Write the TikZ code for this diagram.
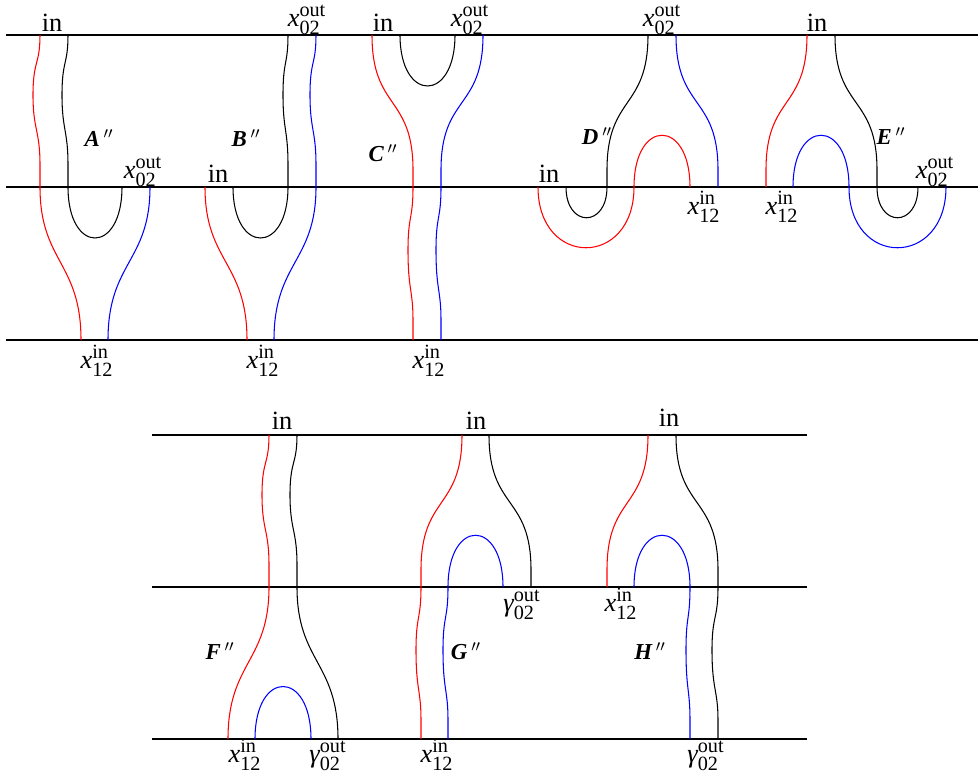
\documentclass[tikz,border=0pt]{standalone}
\usepackage{amsmath}
\usepackage{fontspec}
\setmainfont{Liberation Serif}
\usepackage{tikz}
\usetikzlibrary{positioning,calc}
\definecolor{strandred}{RGB}{255,0,0}
\definecolor{strandblue}{RGB}{0,0,255}
\DeclareMathSizes{15}{15}{11.5}{9}
\newcommand{\xin}{$\textit{x}^{\text{in}}_{\text{12}}$}
\newcommand{\xout}{$\textit{x}^{\text{out}}_{\text{02}}$}
\newcommand{\gout}{$\textit{γ}^{\text{out}}_{\text{02}}$}
\newcommand{\dprime}{\,$''$}
\tikzset{
  level/.style={line width=0.7pt},
  redstrand/.style={draw=strandred, line width=0.6pt},
  bluestrand/.style={draw=strandblue, line width=0.6pt},
  blackstrand/.style={draw=black, line width=0.6pt},
  lab/.style={font=\fontsize{15}{18}\selectfont, inner sep=0pt, anchor=base},
  tag/.style={font=\fontsize{13}{15}\selectfont\bfseries\itshape, inner sep=0pt}
}

\begin{document}
\begin{tikzpicture}[x=0.02cm, y=-0.02cm]
  \useasboundingbox (0,0) rectangle (978,778);

  \draw[level] (6,35) -- (978,35);
  \draw[level] (6,187) -- (978,187);
  \draw[level] (6,340) -- (978,340);
  \draw[level] (152,435) -- (807,435);
  \draw[level] (152,587) -- (807,587);
  \draw[level] (152,739) -- (807,739);

  \draw[redstrand] (40,35) .. controls (40,65) and (33,60) .. (33,95) .. controls (33,130) and (40,130) .. (40,165) -- (40,187) .. controls (40,262) and (81,262) .. (81,340);
  \draw[blackstrand] (68,35) .. controls (68,65) and (62,60) .. (62,95) .. controls (62,130) and (68,130) .. (68,165) -- (68,187) .. controls (68,255) and (122,255) .. (122,187);
  \draw[bluestrand] (150,187) .. controls (150,262) and (108,262) .. (108,340);
  \node[lab] (inA) at (52,31) {in};
  \node[lab] (xoutA) at (143,178) {\xout};
  \node[lab] (xinA) at (97,368) {\xin};
  \node[tag] (tagA) at (99,138) {A\dprime};

  \draw[redstrand] (205,187) .. controls (205,262) and (247,262) .. (247,340);
  \draw[blackstrand] (233,187) .. controls (233,255) and (288,255) .. (288,187) -- (288,165) .. controls (288,130) and (283,130) .. (283,95) .. controls (283,60) and (288,65) .. (288,35);
  \draw[bluestrand] (316,35) .. controls (316,65) and (310,60) .. (310,95) .. controls (310,130) and (316,130) .. (316,165) -- (316,187) .. controls (316,262) and (274,262) .. (274,340);
  \node[lab] (inB) at (218,182) {in};
  \node[lab] (xoutB) at (307,26) {\xout};
  \node[lab] (xinB) at (263,368) {\xin};
  \node[tag] (tagB) at (246,138) {B\dprime};

  \draw[redstrand] (372,35) .. controls (372,110) and (413,95) .. (413,170) -- (413,187) .. controls (413,220) and (408,215) .. (408,250) .. controls (408,290) and (413,290) .. (413,320) -- (413,340);
  \draw[blackstrand] (400,35) .. controls (400,103) and (455,103) .. (455,35);
  \draw[bluestrand] (483,35) .. controls (483,110) and (441,95) .. (441,170) -- (441,187) .. controls (441,220) and (436,215) .. (436,250) .. controls (436,290) and (441,290) .. (441,320) -- (441,340);
  \node[lab] (inC) at (383,31) {in};
  \node[lab] (xoutC) at (470,26) {\xout};
  \node[lab] (xinC) at (429,368) {\xin};
  \node[tag] (tagC) at (383,153) {C\dprime};

  \draw[blackstrand] (648,35) .. controls (648,110) and (607,95) .. (607,170) -- (607,187) .. controls (607,228) and (566,228) .. (566,187);
  \draw[redstrand] (538,187) .. controls (538,268) and (634,268) .. (634,187) .. controls (634,118) and (690,118) .. (690,187);
  \draw[bluestrand] (676,35) .. controls (676,110) and (718,95) .. (718,170) -- (718,187);
  \node[lab] (inD) at (549,182) {in};
  \node[lab] (xoutD) at (662,26) {\xout};
  \node[lab] (xinD) at (704,214) {\xin};
  \node[tag] (tagD) at (597,136) {D\dprime};

  \draw[redstrand] (807,35) .. controls (807,110) and (766,95) .. (766,170) -- (766,187);
  \draw[bluestrand] (793,187) .. controls (793,118) and (849,118) .. (849,187) .. controls (849,268) and (946,268) .. (946,187);
  \draw[blackstrand] (835,35) .. controls (835,110) and (877,95) .. (877,170) -- (877,187) .. controls (877,228) and (918,228) .. (918,187);
  \node[lab] (inE) at (817,31) {in};
  \node[lab] (xoutE) at (935,178) {\xout};
  \node[lab] (xinE) at (782,214) {\xin};
  \node[tag] (tagE) at (891,136) {E\dprime};

  \draw[redstrand] (269,435) .. controls (269,465) and (262,460) .. (262,495) .. controls (262,530) and (269,530) .. (269,565) -- (269,587) .. controls (269,662) and (228,662) .. (228,739);
  \draw[blackstrand] (297,435) .. controls (297,465) and (290,460) .. (290,495) .. controls (290,530) and (297,530) .. (297,565) -- (297,587) .. controls (297,662) and (338,662) .. (338,739);
  \draw[bluestrand] (255,739) .. controls (255,669) and (311,669) .. (311,739);
  \node[lab] (inF) at (282,429) {in};
  \node[lab] (xinF) at (245,762) {\xin};
  \node[lab] (goutF) at (328,762) {\gout};
  \node[tag] (tagF) at (220,651) {F\dprime};

  \draw[redstrand] (462,435) .. controls (462,510) and (421,495) .. (421,570) -- (421,587) .. controls (421,620) and (416,615) .. (416,650) .. controls (416,690) and (421,690) .. (421,720) -- (421,739);
  \draw[bluestrand] (448,739) -- (448,720) .. controls (448,690) and (443,690) .. (443,650) .. controls (443,615) and (448,620) .. (448,587) .. controls (448,518) and (503,518) .. (503,587);
  \draw[blackstrand] (489,435) .. controls (489,510) and (531,495) .. (531,570) -- (531,587);
  \node[lab] (inG) at (476,429) {in};
  \node[lab] (goutG) at (522,611) {\gout};
  \node[lab] (xinG) at (437,762) {\xin};
  \node[tag] (tagG) at (466,651) {G\dprime};

  \draw[redstrand] (648,435) .. controls (648,510) and (607,495) .. (607,570) -- (607,587);
  \draw[bluestrand] (634,587) .. controls (634,518) and (690,518) .. (690,587) .. controls (690,620) and (686,615) .. (686,650) .. controls (686,690) and (690,690) .. (690,720) -- (690,739);
  \draw[blackstrand] (676,435) .. controls (676,510) and (718,495) .. (718,570) -- (718,587) .. controls (718,620) and (712,615) .. (712,650) .. controls (712,690) and (718,690) .. (718,720) -- (718,739);
  \node[lab] (inH) at (669,426) {in};
  \node[lab] (xinH) at (621,611) {\xin};
  \node[lab] (goutH) at (706,762) {\gout};
  \node[tag] (tagH) at (650,651) {H\dprime};
\end{tikzpicture}
\end{document}
